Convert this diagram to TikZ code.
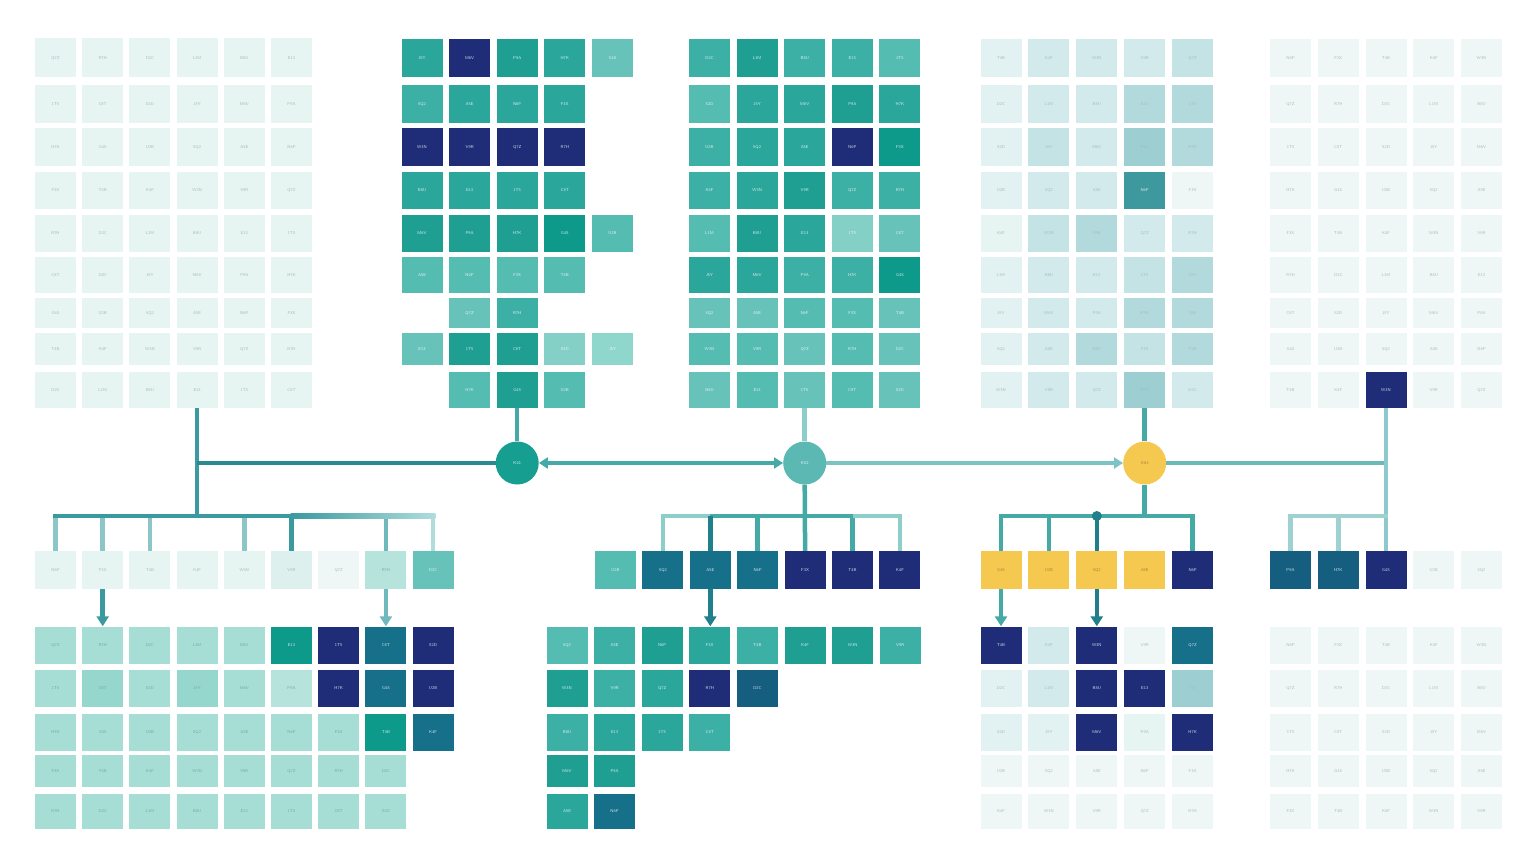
\documentclass[tikz,border=0pt]{standalone}
\usetikzlibrary{arrows.meta,calc}
\definecolor{NV}{HTML}{1F2D78}
\definecolor{BT}{HTML}{17708A}
\definecolor{BTT}{HTML}{165E80}
\definecolor{T0}{HTML}{0E9A8B}
\definecolor{T1}{HTML}{1F9E92}
\definecolor{T2}{HTML}{2AA69A}
\definecolor{T3}{HTML}{3DB0A5}
\definecolor{T4}{HTML}{55BCB1}
\definecolor{T5}{HTML}{67C3B9}
\definecolor{T6}{HTML}{84D0C6}
\definecolor{T7}{HTML}{8FD6CC}
\definecolor{P1}{HTML}{A6DDD5}
\definecolor{P2}{HTML}{95D6CD}
\definecolor{P3}{HTML}{B6E4DD}
\definecolor{WA}{HTML}{E6F4F2}
\definecolor{WB}{HTML}{DDF0EE}
\definecolor{WE}{HTML}{EEF7F6}
\definecolor{G1}{HTML}{E2F1F1}
\definecolor{G2}{HTML}{D2EAEB}
\definecolor{G3}{HTML}{C4E3E5}
\definecolor{G4}{HTML}{B2D9DC}
\definecolor{G5}{HTML}{9CCED2}
\definecolor{G6}{HTML}{3E999E}
\definecolor{YL}{HTML}{F5C850}
\definecolor{PT}{HTML}{7AA8A4}
\definecolor{WT}{HTML}{A8BCBA}
\definecolor{YT}{HTML}{A88638}
\definecolor{LA}{HTML}{3A9AA0}
\definecolor{LAA}{HTML}{2A8A90}
\definecolor{LB}{HTML}{6FB8BC}
\definecolor{LC}{HTML}{B0DCDC}
\definecolor{LD}{HTML}{8CC6C8}
\definecolor{LE}{HTML}{1F7F8A}
\definecolor{LF}{HTML}{45AAA5}
\definecolor{LG}{HTML}{7CC4C4}
\definecolor{LGG}{HTML}{8CCFCA}
\definecolor{LH}{HTML}{6BBAB8}
\definecolor{LI}{HTML}{8CC8CC}
\definecolor{LJ}{HTML}{9FD0D2}
\definecolor{KA}{HTML}{169E90}
\definecolor{KB}{HTML}{5BB8B3}
\tikzset{
  cell/.style={rectangle,minimum width=41pt,inner sep=0pt,font=\fontsize{4.2}{5}\selectfont\sffamily},
  nv/.style={fill=NV,text=white!80!NV},
  bt/.style={fill=BT,text=white!80!BT},
  btt/.style={fill=BTT,text=white!80!BTT},
  t0/.style={fill=T0,text=white!80!T0},
  t1/.style={fill=T1,text=white!80!T1},
  t2/.style={fill=T2,text=white!80!T2},
  t3/.style={fill=T3,text=white!80!T3},
  t4/.style={fill=T4,text=white!80!T4},
  t5/.style={fill=T5,text=white!80!T5},
  t6/.style={fill=T6,text=white!80!T6},
  t7/.style={fill=T7,text=white!80!T7},
  p1/.style={fill=P1,text=PT},
  p2/.style={fill=P2,text=PT},
  p3/.style={fill=P3,text=PT},
  wa/.style={fill=WA,text=WT},
  wb/.style={fill=WB,text=WT},
  we/.style={fill=WE,text=WT},
  g1/.style={fill=G1,text=WT},
  g2/.style={fill=G2,text=WT},
  g3/.style={fill=G3,text=WT},
  g4/.style={fill=G4,text=WT},
  g5/.style={fill=G5,text=WT},
  g6/.style={fill=G6,text=white!80!G6},
  yl/.style={fill=YL,text=YT},
  ln/.style={line width=4.5pt},
  arr/.style={line width=4.5pt,-{Triangle[width=12pt,length=10pt]}},
  knot/.style={circle,minimum size=43pt,inner sep=0pt,font=\fontsize{4.2}{5}\selectfont\sffamily,text=white!85!KA},
}
\def\lablist{{"E13","T4B","M6V","R7H","5Q2","1T5","K4F","P9A","D2C","A5E","C8T","W3N","H7K","L1M","N6P","S2D","V9R","G4S","B8U","F3X","J5Y","Q7Z","U2B"}}
% #1 prefix, #2 row, #3 y, #4 height, #5 x0, #6 pitch, #7 list col/style
\newcommand\grow[7]{%
  \foreach \cix/\sty in {#7}{%
    \pgfmathtruncatemacro\li{mod(#2*7+\cix*5+#5,23)}%
    \pgfmathparse{\lablist[\li]}\let\lab\pgfmathresult
    \node[cell,\sty,minimum height=#4pt] (#1-#2-\cix) at ({#5+(\cix-1)*#6},#3) {\lab};
  }}
\begin{document}
\begin{tikzpicture}[x=1pt,y=-1pt]
\useasboundingbox (0,0) rectangle (1536,864);
\fill[white] (0,0) rectangle (1536,864);

% ---------- group A (top left) ----------
\foreach \r/\y/\h in {1/58/39,2/104/38,3/147/38,4/190/37,5/233/37,6/275/36,7/313/30,8/349/32,9/390/36}
  {\grow{A}{\r}{\y}{\h}{55.5}{47.2}{1/wa,2/wa,3/wa,4/wa,5/wa,6/wa}}

% ---------- group B ----------
\grow{B}{1}{58}{38}{422}{47.6}{1/t2,2/nv,3/t1,4/t2,5/t5}
\grow{B}{2}{104}{38}{422}{47.6}{1/t3,2/t2,3/t2,4/t2}
\grow{B}{3}{147}{38}{422}{47.6}{1/nv,2/nv,3/nv,4/nv}
\grow{B}{4}{190}{37}{422}{47.6}{1/t2,2/t2,3/t2,4/t2}
\grow{B}{5}{233}{37}{422}{47.6}{1/t1,2/t1,3/t1,4/t0,5/t4}
\grow{B}{6}{275}{36}{422}{47.6}{1/t4,2/t4,3/t4,4/t4}
\grow{B}{7}{313}{30}{422}{47.6}{2/t5,3/t3}
\grow{B}{8}{349}{32}{422}{47.6}{1/t5,2/t1,3/t1,4/t6,5/t7}
\grow{B}{9}{390}{36}{422}{47.6}{2/t4,3/t1,4/t4}

% ---------- group C ----------
\grow{C}{1}{58}{38}{709.5}{47.6}{1/t3,2/t1,3/t3,4/t3,5/t4}
\grow{C}{2}{104}{38}{709.5}{47.6}{1/t4,2/t2,3/t2,4/t1,5/t2}
\grow{C}{3}{147}{38}{709.5}{47.6}{1/t3,2/t2,3/t2,4/nv,5/t0}
\grow{C}{4}{190}{37}{709.5}{47.6}{1/t3,2/t2,3/t1,4/t3,5/t3}
\grow{C}{5}{233}{37}{709.5}{47.6}{1/t4,2/t1,3/t2,4/t6,5/t5}
\grow{C}{6}{275}{36}{709.5}{47.6}{1/t2,2/t2,3/t3,4/t3,5/t0}
\grow{C}{7}{313}{30}{709.5}{47.6}{1/t5,2/t5,3/t4,4/t4,5/t5}
\grow{C}{8}{349}{32}{709.5}{47.6}{1/t4,2/t4,3/t5,4/t4,5/t5}
\grow{C}{9}{390}{36}{709.5}{47.6}{1/t5,2/t4,3/t5,4/t4,5/t5}

% ---------- group D ----------
\grow{D}{1}{58}{38}{1001}{47.9}{1/g1,2/g2,3/g2,4/g2,5/g3}
\grow{D}{2}{104}{38}{1001}{47.9}{1/g1,2/g2,3/g2,4/g4,5/g4}
\grow{D}{3}{147}{38}{1001}{47.9}{1/g1,2/g3,3/g2,4/g5,5/g4}
\grow{D}{4}{190}{37}{1001}{47.9}{1/g1,2/g2,3/g2,4/g6,5/we}
\grow{D}{5}{233}{37}{1001}{47.9}{1/wa,2/g3,3/g4,4/g2,5/g2}
\grow{D}{6}{275}{36}{1001}{47.9}{1/g1,2/g2,3/g2,4/g3,5/g4}
\grow{D}{7}{313}{30}{1001}{47.9}{1/g1,2/g2,3/g2,4/g4,5/g4}
\grow{D}{8}{349}{32}{1001}{47.9}{1/g1,2/g2,3/g4,4/g3,5/g4}
\grow{D}{9}{390}{36}{1001}{47.9}{1/g1,2/g2,3/g2,4/g5,5/g2}

% ---------- group E ----------
\foreach \r/\y/\h in {1/58/38,2/104/38,3/147/38,4/190/37,5/233/37,6/275/36,7/313/30,8/349/32}
  {\grow{E}{\r}{\y}{\h}{1290.5}{47.75}{1/we,2/we,3/we,4/we,5/we}}
\grow{E}{9}{390}{36}{1290.5}{47.75}{1/we,2/we,3/nv,4/we,5/we}

% ---------- middle row ----------
\grow{L}{0}{570}{38}{55.5}{47.2}{1/wa,2/wa,3/wa,4/wa,5/wa,6/wb,7/we,8/p3,9/t5}
\grow{M}{0}{570}{38}{615.5}{47.4}{1/t4,2/bt,3/bt,4/bt,5/nv,6/nv,7/nv}
\grow{Y}{0}{570}{38}{1001}{47.9}{1/yl,2/yl,3/yl,4/yl,5/nv}
\grow{R}{0}{570}{38}{1290.5}{47.75}{1/btt,2/btt,3/nv,4/we,5/we}

% ---------- bottom left ----------
\grow{BL}{1}{645}{37}{55.5}{47.2}{1/p1,2/p1,3/p1,4/p1,5/p1,6/t0,7/nv,8/bt,9/nv}
\grow{BL}{2}{688}{37}{55.5}{47.2}{1/p1,2/p2,3/p1,4/p2,5/p1,6/p3,7/nv,8/bt,9/nv}
\grow{BL}{3}{732}{37}{55.5}{47.2}{1/p1,2/p1,3/p1,4/p1,5/p1,6/p1,7/p1,8/t0,9/bt}
\grow{BL}{4}{771}{32}{55.5}{47.2}{1/p1,2/p1,3/p1,4/p1,5/p1,6/p1,7/p1,8/p1}
\grow{BL}{5}{811}{35}{55.5}{47.2}{1/p1,2/p1,3/p1,4/p1,5/p1,6/p1,7/p1,8/p1}

% ---------- bottom middle ----------
\grow{BM}{1}{645}{37}{567}{47.6}{1/t4,2/t3,3/t1,4/t2,5/t3,6/t1,7/t1,8/t3}
\grow{BM}{2}{688}{37}{567}{47.6}{1/t1,2/t3,3/t2,4/nv,5/btt}
\grow{BM}{3}{732}{37}{567}{47.6}{1/t3,2/t2,3/t2,4/t3}
\grow{BM}{4}{771}{32}{567}{47.6}{1/t1,2/t1}
\grow{BM}{5}{811}{35}{567}{47.6}{1/t2,2/bt}

% ---------- bottom D ----------
\grow{BD}{1}{645}{37}{1001}{47.9}{1/nv,2/g2,3/nv,4/we,5/bt}
\grow{BD}{2}{688}{37}{1001}{47.9}{1/g1,2/g2,3/nv,4/nv,5/g5}
\grow{BD}{3}{732}{37}{1001}{47.9}{1/g1,2/g1,3/nv,4/wa,5/nv}
\grow{BD}{4}{771}{32}{1001}{47.9}{1/we,2/we,3/we,4/we,5/we}
\grow{BD}{5}{811}{35}{1001}{47.9}{1/we,2/we,3/we,4/we,5/we}

% ---------- bottom E ----------
\foreach \r/\y/\h in {1/645/37,2/688/37,3/732/37,4/771/32,5/811/35}
  {\grow{BE}{\r}{\y}{\h}{1290.5}{47.75}{1/we,2/we,3/we,4/we,5/we}}

% ---------- hub circles ----------
\coordinate (yH) at (0,463);
\coordinate (yB) at (0,516);
\node[knot,fill=KA] (k1) at (B-9-3 |- yH) {K41};
\node[knot,fill=KB,text=white!85!KB] (k2) at (C-9-3 |- yH) {K52};
\node[knot,fill=YL,text=YT] (k3) at (D-9-4 |- yH) {K63};

% ---------- left system ----------
\draw[ln,LD] (L-0-1 |- yB) -- (L-0-1.north);
\draw[ln,LD] (L-0-2 |- yB) -- (L-0-2.north);
\draw[ln,LD] (L-0-3 |- yB) -- (L-0-3.north);
\draw[ln,LD] (L-0-5 |- yB) -- (L-0-5.north);
\draw[ln,LA] (L-0-6 |- yB) -- (L-0-6.north);
\draw[ln,LB] (L-0-8 |- yB) -- (L-0-8.north);
\draw[ln,LC] (L-0-9 |- yB) -- (L-0-9.north);
\shade[left color=LA,right color=LC] ($(L-0-6 |- yB)+(-1,-2.25)$) rectangle ($(L-0-9 |- yB)+(2.25,2.25)$);
\draw[ln,LA,line cap=rect] (L-0-1 |- yB) -- (L-0-6 |- yB);
\draw[ln,LA] (A-9-4.south) -- (A-9-4 |- yB);
\draw[ln,LAA] (A-9-4 |- yH) -- (k1.west);
\draw[arr,LA] (L-0-2.south) -- (L-0-2.south |- BL-1-2.north);
\draw[arr,LB] (L-0-8.south) -- (L-0-8.south |- BL-1-8.north);

% ---------- middle system ----------
\draw[ln,LF] (B-9-3.south) -- (k1.north);
\draw[ln,LF,{Triangle[width=11pt,length=9pt]}-{Triangle[width=11pt,length=9pt]}] (k1.east) -- (k2.west);
\draw[ln,LGG] (C-9-3.south) -- (k2.north);
\draw[ln,LGG] (M-0-2 |- yB) -- (M-0-2.north);
\draw[ln,LF] (M-0-4 |- yB) -- (M-0-4.north);
\draw[ln,LF] (M-0-6 |- yB) -- (M-0-6.north);
\draw[ln,LGG] (M-0-7 |- yB) -- (M-0-7.north);
\draw[ln,LGG,line cap=rect] (M-0-2 |- yB) -- (M-0-3 |- yB);
\draw[ln,LGG,line cap=rect] (M-0-6 |- yB) -- (M-0-7 |- yB);
\draw[ln,LF] (M-0-3 |- yB) -- (M-0-6 |- yB);
\draw[ln,LF] (k2.south) -- (M-0-5.north);
\draw[ln,LE] (M-0-3 |- yB) -- (M-0-3.north);
\draw[arr,LE] (M-0-3.south) -- (M-0-3.south |- BM-1-4.north);
\draw[ln,LG,-{Triangle[width=11pt,length=9pt]}] (k2.east) -- (k3.west);

% ---------- right systems ----------
\draw[ln,LF] (D-9-4.south) -- (k3.north);
\draw[ln,LH] (k3.east) -- (E-9-3 |- yH);
\draw[ln,LI] (E-9-3.south) -- (R-0-3.north);
\draw[ln,LJ] (R-0-1 |- yB) -- (R-0-1.north);
\draw[ln,LJ] (R-0-2 |- yB) -- (R-0-2.north);
\draw[ln,LJ,line cap=rect] (R-0-1 |- yB) -- (R-0-3 |- yB);

\draw[ln,LF] (Y-0-1 |- yB) -- (Y-0-1.north);
\draw[ln,LF] (Y-0-2 |- yB) -- (Y-0-2.north);
\draw[ln,LF] (Y-0-5 |- yB) -- (Y-0-5.north);
\draw[ln,LF,line cap=rect] (Y-0-1 |- yB) -- (Y-0-5 |- yB);
\draw[ln,LF] (k3.south) -- (k3 |- yB);
\draw[ln,LE] (Y-0-3 |- yB) -- (Y-0-3.north);
\node[circle,fill=LE,minimum size=10pt,inner sep=0pt] (dot) at (Y-0-3 |- yB) {};
\draw[arr,LF] (Y-0-1.south) -- (Y-0-1.south |- BD-1-1.north);
\draw[arr,LE] (Y-0-3.south) -- (Y-0-3.south |- BD-1-3.north);
\end{tikzpicture}
\end{document}
